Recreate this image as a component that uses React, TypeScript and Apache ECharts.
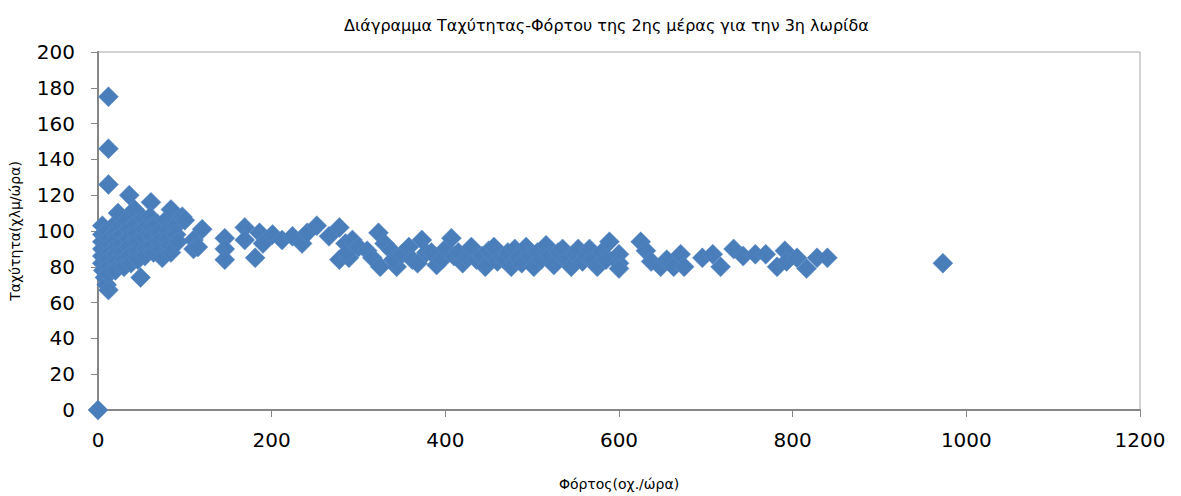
import React, { useEffect, useRef } from "react";
import * as echarts from "echarts";

const chartTitle = "Διάγραμμα Ταχύτητας-Φόρτου της 2ης μέρας για την 3η λωρίδα";
const xAxisName = "Φόρτος(οχ./ώρα)";
const yAxisName = "Ταχύτητα(χλμ/ώρα)";

// [flow (veh/h), speed (km/h)]
const lowFlowPoints: number[][] = [
  [0, 0],
  [12, 175], [12, 146], [12, 126],
  [5, 103], [5, 98], [5, 94], [5, 90], [5, 86], [5, 82], [6, 78], [8, 74], [10, 70], [12, 67],
  [12, 100], [14, 96], [15, 92], [14, 88], [13, 84], [13, 80], [12, 76],
  [20, 104], [20, 99], [20, 95], [22, 91], [20, 87], [22, 83], [20, 78],
  [23, 110], [27, 103], [28, 98], [28, 93], [28, 88], [30, 84], [30, 80],
  [33, 106], [36, 101], [35, 96], [36, 91], [36, 86], [38, 82],
  [36, 120], [42, 112], [44, 104], [45, 99], [45, 94], [46, 89], [46, 84], [49, 74],
  [52, 107], [53, 101], [54, 96], [55, 90], [54, 86],
  [61, 116], [60, 108], [62, 102], [62, 97], [63, 92], [64, 88],
  [68, 104], [70, 99], [70, 94], [72, 90], [74, 85],
  [78, 106], [80, 100], [80, 95], [82, 92], [84, 88],
  [84, 112], [90, 103], [90, 98], [92, 94],
  [97, 108], [100, 106],
  [110, 95], [110, 90], [115, 91],
  [120, 101],
];

const midFlowPoints: number[][] = [
  [146, 96], [146, 90], [146, 84],
  [169, 102], [169, 95], [181, 85], [186, 99], [190, 93],
  [201, 98], [212, 95], [224, 97], [235, 93], [241, 99], [252, 103],
  [266, 97], [278, 102], [278, 84], [285, 93], [289, 85], [287, 88],
  [293, 95], [300, 91], [310, 89], [316, 85],
  [323, 99], [325, 80], [330, 93], [338, 89], [344, 80], [340, 84],
  [350, 87], [358, 91], [362, 84], [368, 82],
  [373, 95], [378, 88], [384, 88], [390, 81], [396, 84], [400, 90],
  [407, 96], [410, 86], [415, 88], [420, 82], [425, 85],
  [430, 91], [436, 84], [442, 86], [446, 80], [450, 89],
  [456, 91], [460, 83], [468, 84], [472, 88], [476, 80],
  [480, 90], [484, 85], [488, 82], [493, 91], [498, 86], [502, 80],
  [506, 88], [510, 84], [516, 92], [520, 86], [525, 81],
  [530, 88], [535, 90], [540, 84], [545, 80], [550, 87],
  [553, 90], [558, 83], [562, 86], [566, 90], [570, 84], [575, 80],
  [580, 88], [589, 94], [585, 84],
  [600, 87], [600, 82], [600, 79],
];

const highFlowPoints: number[][] = [
  [625, 94], [631, 89], [637, 83], [648, 80], [655, 84],
  [663, 80], [671, 87], [675, 80],
  [696, 85], [708, 87], [717, 80],
  [732, 90], [743, 86], [757, 87], [769, 87],
  [782, 80], [791, 89], [793, 83], [805, 85], [816, 79],
  [828, 85], [840, 85],
  [973, 82],
];

const xTicks = { min: 0, max: 1200, interval: 200 };
const yTicks = { min: 0, max: 200, interval: 20 };

export default function App() {
  const ref = useRef<HTMLDivElement>(null);
  useEffect(() => {
    if (!ref.current) return;
    const chart = echarts.init(ref.current, undefined, { renderer: "svg" });
    const font = "DejaVu Sans";
    const axisColor = "#868686";
    chart.setOption({
      animation: false,
      backgroundColor: "#ffffff",
      title: {
        text: chartTitle,
        left: 339,
        top: 12,
        textStyle: { fontSize: 16, fontWeight: "normal", color: "#000", fontFamily: font },
      },
      grid: {
        left: 94,
        right: 41,
        top: 52,
        bottom: 82,
        show: true,
        borderColor: "#a6a6a6",
        borderWidth: 1,
      },
      xAxis: {
        type: "value",
        min: xTicks.min,
        max: xTicks.max,
        interval: xTicks.interval,
        name: xAxisName,
        nameLocation: "middle",
        nameGap: 67,
        nameTextStyle: { fontSize: 14, color: "#000", fontFamily: font },
        axisLine: { show: true, lineStyle: { color: axisColor, width: 2 } },
        axisTick: { show: true, length: 7, lineStyle: { color: axisColor, width: 1 } },
        axisLabel: {
          fontSize: 20,
          color: "#000",
          margin: 20,
          fontFamily: font,
          formatter: (v: number) => String(v),
        },
        splitLine: { show: false },
      },
      yAxis: {
        type: "value",
        min: yTicks.min,
        max: yTicks.max,
        interval: yTicks.interval,
        name: yAxisName,
        nameLocation: "middle",
        nameGap: 76,
        nameTextStyle: { fontSize: 14, color: "#000", fontFamily: font },
        axisLine: { show: true, lineStyle: { color: axisColor, width: 2 } },
        axisTick: { show: true, length: 7, lineStyle: { color: axisColor, width: 1 } },
        axisLabel: {
          fontSize: 20,
          color: "#000",
          margin: 23,
          fontFamily: font,
          formatter: (v: number) => String(v),
        },
        splitLine: { show: false },
      },
      series: [
        {
          type: "scatter",
          symbol: "diamond",
          symbolSize: 20,
          clip: false,
          itemStyle: { color: "#4A7EBB", opacity: 1, borderColor: "#5A8BC6", borderWidth: 0.5 },
          data: [...lowFlowPoints, ...midFlowPoints, ...highFlowPoints],
        },
      ],
    });
    return () => chart.dispose();
  }, []);
  return (
    <div
      ref={ref}
      style={{ position: "fixed", left: 0, top: 0, width: 1181, height: 496, background: "#fff" }}
    />
  );
}
